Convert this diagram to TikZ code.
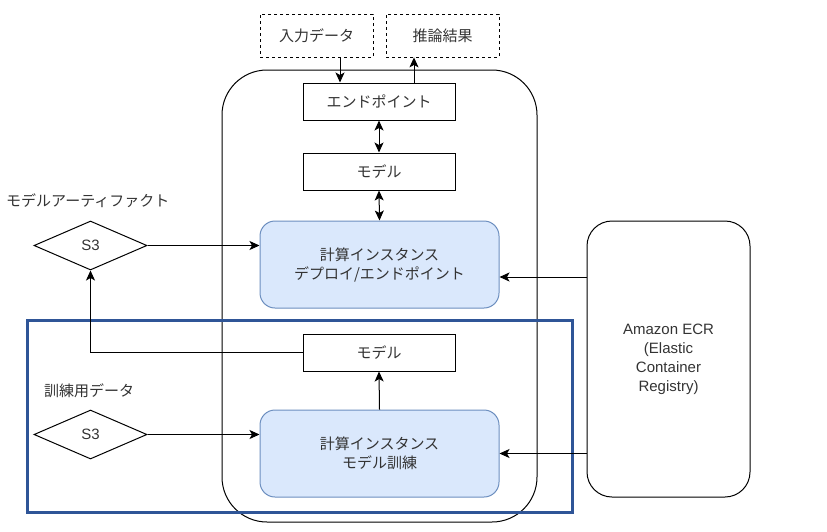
\documentclass[tikz,border=0pt]{standalone}
\usepackage{fontspec}
\setmainfont{Liberation Sans}
\newfontfamily\jp{Noto Sans CJK JP}
\usetikzlibrary{shapes.geometric,arrows.meta}
\definecolor{bfill}{HTML}{DAE8FC}
\definecolor{bdraw}{HTML}{6C8EBF}
\definecolor{framecol}{HTML}{2F5597}
\definecolor{txt}{HTML}{333333}
\begin{document}
\begin{tikzpicture}[x=1pt,y=-1pt,
  every node/.style={text=txt,font=\fontsize{15}{19}\selectfont,align=center,inner sep=0pt},
  box/.style={draw=black,line width=1pt,minimum width=152,minimum height=37},
  dbox/.style={draw=black,line width=0.8pt,dashed,minimum width=113,minimum height=43},
  comp/.style={draw=bdraw,fill=bfill,line width=1pt,rounded corners=15,minimum width=239,minimum height=87},
  s3/.style={draw=black,line width=1pt,diamond,minimum width=113,minimum height=49},
  arr/.style={draw=black,line width=1pt,-{Stealth[length=10,width=9,inset=2.5]}},
  darr/.style={draw=black,line width=1pt,{Stealth[length=10,width=9,inset=2.5]}-{Stealth[length=10,width=9,inset=2.5]}}
]
\useasboundingbox (0,0) rectangle (827,531);
\node[draw=black,line width=1pt,rounded corners=45,minimum width=315,minimum height=452] (cont) at (379.5,296) {};
\node[dbox] (inp) at (316.5,35.5) {\jp 入力データ};
\node[dbox] (outp) at (442.5,35.5) {\jp 推論結果};
\node[box] (ep) at (379,101.5) {\jp エンドポイント};
\node[box] (m1) at (379,171.5) {\jp モデル};
\node[comp] (dep) at (379.5,264.5) {\jp 計算インスタンス\\\jp デプロイ/エンドポイント};
\node[box] (m2) at (379,352.5) {\jp モデル};
\node[comp] (train) at (379.5,453.5) {\jp 計算インスタンス\\\jp モデル訓練};
\node[draw=black,line width=1pt,rounded corners=25,minimum width=163,minimum height=276] (ecr) at (668.5,359) {Amazon ECR\\(Elastic\\Container\\Registry)};
\node[s3] (s3a) at (90.5,245.5) {S3};
\node[s3] (s3b) at (90.5,434.5) {S3};
\node[anchor=west] (lab1) at (6,201) {\jp モデルアーティファクト};
\node[anchor=west] (lab2) at (44,391) {\jp 訓練用データ};
\node[draw=framecol,line width=3pt,minimum width=545,minimum height=192] (frame) at (299.5,416) {};
\coordinate (i1) at ([xshift=-39]ep.north);
\coordinate (o1) at ([xshift=35]ep.north);
\coordinate (d1) at ([yshift=-12.5]dep.east);
\draw[arr] (i1 |- inp.south) -- (i1);
\draw[arr] (o1) -- (o1 |- outp.south);
\draw[darr] (ep.south) -- (m1.north);
\draw[darr] (m1.south) -- (dep.north);
\draw[arr] (s3a.east) -- (s3a.east -| dep.west);
\draw[arr] (d1 -| ecr.west) -- (d1);
\draw[arr] (ecr.west |- train.east) -- (train.east);
\draw[arr] (m2.west) -| (s3a.south);
\draw[arr] (train.north) -- (m2.south);
\draw[arr] (s3b.east) -- (s3b.east -| train.west);
\end{tikzpicture}
\end{document}
